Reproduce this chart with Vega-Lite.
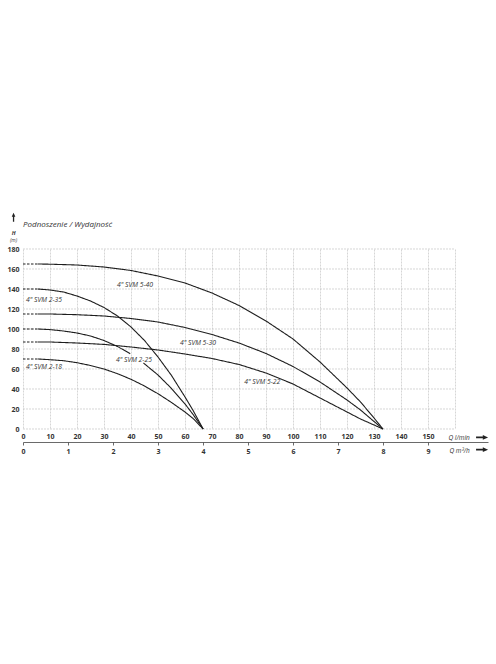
{
  "$schema": "https://vega.github.io/schema/vega-lite/v6.json",
  "width": 465,
  "height": 180,
  "autosize": {"type": "none"},
  "padding": {"left": 23, "top": 249, "right": 8, "bottom": 235},
  "background": "white",
  "config": {"view": {"stroke": null}, "font": "Open Sans"},
  "title": {"text": "Podnoszenie / Wydajność", "anchor": "start", "frame": "group", "fontSize": 8, "fontStyle": "italic", "fontWeight": "normal", "color": "#333", "font": "Open Sans", "offset": -16},
  "datasets": {
    "curves": [
      {"s": "5-40", "seg": "d", "q": 0, "h": 165}, {"s": "5-40", "seg": "d", "q": 5.5, "h": 165},
      {"s": "5-40", "seg": "a", "q": 5.5, "h": 165}, {"s": "5-40", "seg": "a", "q": 10, "h": 164.8}, {"s": "5-40", "seg": "a", "q": 20, "h": 164}, {"s": "5-40", "seg": "a", "q": 30, "h": 162}, {"s": "5-40", "seg": "a", "q": 40, "h": 158.5}, {"s": "5-40", "seg": "a", "q": 50, "h": 153}, {"s": "5-40", "seg": "a", "q": 60, "h": 146}, {"s": "5-40", "seg": "a", "q": 70, "h": 136}, {"s": "5-40", "seg": "a", "q": 80, "h": 123.5}, {"s": "5-40", "seg": "a", "q": 90, "h": 108}, {"s": "5-40", "seg": "a", "q": 100, "h": 90}, {"s": "5-40", "seg": "a", "q": 110, "h": 67}, {"s": "5-40", "seg": "a", "q": 120, "h": 41}, {"s": "5-40", "seg": "a", "q": 125, "h": 27}, {"s": "5-40", "seg": "a", "q": 130, "h": 11}, {"s": "5-40", "seg": "a", "q": 133.3, "h": 0},
      {"s": "2-35", "seg": "d", "q": 0, "h": 140}, {"s": "2-35", "seg": "d", "q": 5.5, "h": 140},
      {"s": "2-35", "seg": "a", "q": 5.5, "h": 140}, {"s": "2-35", "seg": "a", "q": 10, "h": 139}, {"s": "2-35", "seg": "a", "q": 15, "h": 137}, {"s": "2-35", "seg": "a", "q": 20, "h": 133}, {"s": "2-35", "seg": "a", "q": 25, "h": 128}, {"s": "2-35", "seg": "a", "q": 30, "h": 121.5}, {"s": "2-35", "seg": "a", "q": 35, "h": 113}, {"s": "2-35", "seg": "a", "q": 40, "h": 102}, {"s": "2-35", "seg": "a", "q": 45, "h": 88.5}, {"s": "2-35", "seg": "a", "q": 50, "h": 72}, {"s": "2-35", "seg": "a", "q": 55, "h": 53.5}, {"s": "2-35", "seg": "a", "q": 60, "h": 32}, {"s": "2-35", "seg": "a", "q": 63, "h": 18.5}, {"s": "2-35", "seg": "a", "q": 66.7, "h": 0},
      {"s": "5-30", "seg": "d", "q": 0, "h": 115}, {"s": "5-30", "seg": "d", "q": 5.5, "h": 115},
      {"s": "5-30", "seg": "a", "q": 5.5, "h": 115}, {"s": "5-30", "seg": "a", "q": 10, "h": 115}, {"s": "5-30", "seg": "a", "q": 20, "h": 114.3}, {"s": "5-30", "seg": "a", "q": 30, "h": 113}, {"s": "5-30", "seg": "a", "q": 40, "h": 110.5}, {"s": "5-30", "seg": "a", "q": 50, "h": 107}, {"s": "5-30", "seg": "a", "q": 60, "h": 101.5}, {"s": "5-30", "seg": "a", "q": 70, "h": 94.5}, {"s": "5-30", "seg": "a", "q": 80, "h": 86}, {"s": "5-30", "seg": "a", "q": 90, "h": 75.5}, {"s": "5-30", "seg": "a", "q": 100, "h": 62.5}, {"s": "5-30", "seg": "a", "q": 110, "h": 47}, {"s": "5-30", "seg": "a", "q": 120, "h": 29}, {"s": "5-30", "seg": "a", "q": 125, "h": 19}, {"s": "5-30", "seg": "a", "q": 130, "h": 7.5}, {"s": "5-30", "seg": "a", "q": 133.3, "h": 0},
      {"s": "2-25", "seg": "d", "q": 0, "h": 100}, {"s": "2-25", "seg": "d", "q": 5.5, "h": 100},
      {"s": "2-25", "seg": "a", "q": 5.5, "h": 100}, {"s": "2-25", "seg": "a", "q": 10, "h": 99.4}, {"s": "2-25", "seg": "a", "q": 15, "h": 98}, {"s": "2-25", "seg": "a", "q": 20, "h": 96}, {"s": "2-25", "seg": "a", "q": 25, "h": 93}, {"s": "2-25", "seg": "a", "q": 30, "h": 88.5}, {"s": "2-25", "seg": "a", "q": 35, "h": 82.5}, {"s": "2-25", "seg": "a", "q": 39.7, "h": 75.3},
      {"s": "2-25", "seg": "b", "q": 44.6, "h": 66}, {"s": "2-25", "seg": "b", "q": 50, "h": 54}, {"s": "2-25", "seg": "b", "q": 55, "h": 40.5}, {"s": "2-25", "seg": "b", "q": 60, "h": 25}, {"s": "2-25", "seg": "b", "q": 63, "h": 14.5}, {"s": "2-25", "seg": "b", "q": 66.7, "h": 0},
      {"s": "5-22", "seg": "d", "q": 0, "h": 87}, {"s": "5-22", "seg": "d", "q": 5.5, "h": 87},
      {"s": "5-22", "seg": "a", "q": 5.5, "h": 87}, {"s": "5-22", "seg": "a", "q": 10, "h": 87}, {"s": "5-22", "seg": "a", "q": 20, "h": 86}, {"s": "5-22", "seg": "a", "q": 30, "h": 84.6}, {"s": "5-22", "seg": "a", "q": 40, "h": 82}, {"s": "5-22", "seg": "a", "q": 50, "h": 79}, {"s": "5-22", "seg": "a", "q": 60, "h": 75}, {"s": "5-22", "seg": "a", "q": 70, "h": 70.5}, {"s": "5-22", "seg": "a", "q": 80, "h": 64.5}, {"s": "5-22", "seg": "a", "q": 90, "h": 56}, {"s": "5-22", "seg": "a", "q": 100, "h": 45}, {"s": "5-22", "seg": "a", "q": 110, "h": 31}, {"s": "5-22", "seg": "a", "q": 120, "h": 17}, {"s": "5-22", "seg": "a", "q": 125, "h": 10}, {"s": "5-22", "seg": "a", "q": 130, "h": 4}, {"s": "5-22", "seg": "a", "q": 133.3, "h": 0},
      {"s": "2-18", "seg": "d", "q": 0, "h": 70}, {"s": "2-18", "seg": "d", "q": 5.5, "h": 70},
      {"s": "2-18", "seg": "a", "q": 5.5, "h": 70}, {"s": "2-18", "seg": "a", "q": 10, "h": 69.3}, {"s": "2-18", "seg": "a", "q": 15, "h": 68.3}, {"s": "2-18", "seg": "a", "q": 20, "h": 66.3}, {"s": "2-18", "seg": "a", "q": 25, "h": 63.5}, {"s": "2-18", "seg": "a", "q": 30, "h": 60}, {"s": "2-18", "seg": "a", "q": 35, "h": 55.3}, {"s": "2-18", "seg": "a", "q": 40, "h": 49.7}, {"s": "2-18", "seg": "a", "q": 45, "h": 43}, {"s": "2-18", "seg": "a", "q": 50, "h": 35.3}, {"s": "2-18", "seg": "a", "q": 55, "h": 26.5}, {"s": "2-18", "seg": "a", "q": 60, "h": 17}, {"s": "2-18", "seg": "a", "q": 63, "h": 10.5}, {"s": "2-18", "seg": "a", "q": 66.7, "h": 0}
    ],
    "hgrid": [{"h": 0}, {"h": 20}, {"h": 40}, {"h": 60}, {"h": 80}, {"h": 100}, {"h": 120}, {"h": 140}, {"h": 160}, {"h": 180}],
    "labels": [
      {"label": "4\" SVM 5-40", "q": 34.8, "h": 144.3},
      {"label": "4\" SVM 2-35", "q": 1.1, "h": 129},
      {"label": "4\" SVM 5-30", "q": 58.1, "h": 86},
      {"label": "4\" SVM 2-25", "q": 34.4, "h": 69.3},
      {"label": "4\" SVM 2-18", "q": 1.1, "h": 62},
      {"label": "4\" SVM 5-22", "q": 81.9, "h": 46.6}
    ],
    "one": [{"k": 1}]
  },
  "resolve": {"axis": {"x": "independent", "y": "independent"}},
  "layer": [
    {
      "data": {"name": "hgrid"},
      "mark": {"type": "rule", "color": "#c4c4c4", "strokeWidth": 0.7, "strokeDash": [2, 1]},
      "encoding": {
        "y": {"field": "h", "type": "quantitative", "scale": {"domain": [0, 180], "nice": false},
          "axis": {"orient": "left", "values": [0, 20, 40, 60, 80, 100, 120, 140, 160, 180], "domain": false, "ticks": false, "grid": false, "labelPadding": 4, "labelFontSize": 7, "labelFontWeight": "bold", "labelColor": "#333", "labelFlush": false, "labelOverlap": false, "title": null}},
        "x": {"datum": 0, "type": "quantitative", "scale": {"domain": [0, 172.2], "nice": false}, "axis": null},
        "x2": {"datum": 160}
      }
    },
    {
      "data": {"name": "curves"},
      "mark": {"type": "line", "color": "#1e1e1e", "strokeWidth": 1.1},
      "encoding": {
        "x": {"field": "q", "type": "quantitative", "scale": {"domain": [0, 172.2], "nice": false},
          "axis": {"orient": "bottom", "values": [0, 10, 20, 30, 40, 50, 60, 70, 80, 90, 100, 110, 120, 130, 140, 150, 160], "labelExpr": "datum.value > 150 ? '' : datum.label", "domain": false, "ticks": false, "grid": true, "gridColor": "#c4c4c4", "gridWidth": 0.7, "gridDash": [2, 1], "labelPadding": 3, "labelFontSize": 7, "labelFontWeight": "bold", "labelColor": "#333", "labelFlush": false, "labelOverlap": false,
            "title": "Q l/min", "titleX": 425, "titleY": 8.4, "titleAlign": "left", "titleBaseline": "middle", "titleFontSize": 6.5, "titleFontStyle": "italic", "titleFontWeight": "normal", "titleColor": "#333"}},
        "y": {"field": "h", "type": "quantitative", "scale": {"domain": [0, 180], "nice": false}, "axis": null},
        "detail": {"field": "s"},
        "strokeDash": {"field": "seg", "type": "nominal", "scale": {"domain": ["d", "a", "b"], "range": [[2.5, 1.5], [1, 0], [1, 0]]}, "legend": null}
      }
    },
    {
      "data": {"name": "labels"},
      "mark": {"type": "text", "align": "left", "baseline": "middle", "fontSize": 6.8, "fontStyle": "italic", "color": "#333", "font": "Open Sans"},
      "encoding": {
        "x": {"field": "q", "type": "quantitative", "scale": {"domain": [0, 172.2], "nice": false},
          "axis": {"orient": "bottom", "offset": 13, "values": [0, 16.6667, 33.3333, 50, 66.6667, 83.3333, 100, 116.6667, 133.3333, 150], "labelExpr": "format(datum.value / 16.6667, '.0f')", "domain": true, "domainColor": "#444", "domainWidth": 0.8, "ticks": true, "tickSize": 3, "tickColor": "#444", "tickWidth": 0.8, "grid": false, "labelPadding": 2, "labelFontSize": 7, "labelFontWeight": "bold", "labelColor": "#333", "labelFlush": false, "labelOverlap": false,
            "title": "Q m³/h", "titleX": 426, "titleY": 8.2, "titleAlign": "left", "titleBaseline": "middle", "titleFontSize": 6.5, "titleFontStyle": "italic", "titleFontWeight": "normal", "titleColor": "#333"}},
        "y": {"field": "h", "type": "quantitative", "scale": {"domain": [0, 180], "nice": false}, "axis": null},
        "text": {"field": "label"}
      }
    },
    {
      "data": {"name": "one"},
      "mark": {"type": "text", "text": "H", "align": "center", "baseline": "middle", "fontSize": 5.5, "fontStyle": "italic", "fontWeight": "bold", "color": "#333"},
      "encoding": {
        "x": {"datum": -3.5, "type": "quantitative", "scale": {"domain": [0, 172.2], "nice": false}, "axis": null},
        "y": {"datum": 195.8, "type": "quantitative", "scale": {"domain": [0, 180], "nice": false}, "axis": null}
      }
    },
    {
      "data": {"name": "one"},
      "mark": {"type": "text", "text": "(m)", "align": "center", "baseline": "middle", "fontSize": 5, "fontStyle": "italic", "fontWeight": "normal", "color": "#444"},
      "encoding": {
        "x": {"datum": -3.5, "type": "quantitative", "scale": {"domain": [0, 172.2], "nice": false}, "axis": null},
        "y": {"datum": 188.8, "type": "quantitative", "scale": {"domain": [0, 180], "nice": false}, "axis": null}
      }
    },
    {
      "data": {"name": "one"},
      "mark": {"type": "point", "shape": "arrow", "filled": true, "size": 81, "color": "#222", "opacity": 1},
      "encoding": {
        "x": {"datum": -3.5, "type": "quantitative", "scale": {"domain": [0, 172.2], "nice": false}, "axis": null},
        "y": {"datum": 211.8, "type": "quantitative", "scale": {"domain": [0, 180], "nice": false}, "axis": null}
      }
    },
    {
      "data": {"name": "one"},
      "mark": {"type": "point", "shape": "arrow", "filled": true, "size": 144, "angle": 90, "color": "#222", "opacity": 1},
      "encoding": {
        "x": {"datum": 170, "type": "quantitative", "scale": {"domain": [0, 172.2], "nice": false}, "axis": null},
        "y": {"datum": -8.4, "type": "quantitative", "scale": {"domain": [0, 180], "nice": false}, "axis": null}
      }
    },
    {
      "data": {"name": "one"},
      "mark": {"type": "point", "shape": "arrow", "filled": true, "size": 144, "angle": 90, "color": "#222", "opacity": 1},
      "encoding": {
        "x": {"datum": 170, "type": "quantitative", "scale": {"domain": [0, 172.2], "nice": false}, "axis": null},
        "y": {"datum": -20.7, "type": "quantitative", "scale": {"domain": [0, 180], "nice": false}, "axis": null}
      }
    }
  ]
}
